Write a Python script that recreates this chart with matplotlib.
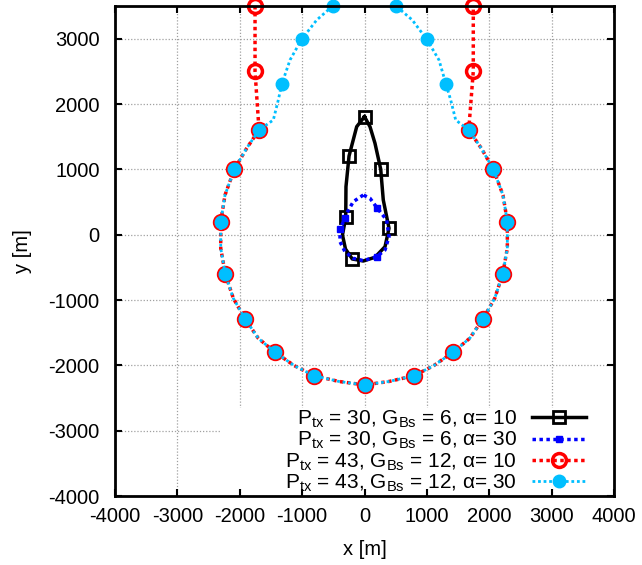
import numpy as np
import matplotlib
matplotlib.use("Agg")
import matplotlib.pyplot as plt
from matplotlib.patches import Rectangle

plt.rcParams.update({
    "font.family": ["Liberation Sans", "DejaVu Sans"],
    "mathtext.fontset": "custom",
    "mathtext.rm": "Liberation Sans",
    "mathtext.it": "Liberation Sans:italic",
    "mathtext.bf": "Liberation Sans:bold",
    "axes.unicode_minus": False,
})

# ── Data (metres) ─────────────────────────────────────────────────────────────
# P_tx = 30, G_Bs = 6, alpha = 10 (closed teardrop)
BLACK_X = [0, -125, -248, -297, -301, -353, -305, -196, -19, 168, 329, 393, 301, 260, 168, 88, 0]
BLACK_Y = [1806, 1653, 1204, 734, 266, -5, -219, -372, -403, -346, -184, 98, 531, 1001, 1399, 1653, 1806]
BLACK_MARKS = [0, 2, 4, 7, 11, 13]

# P_tx = 30, G_Bs = 6, alpha = 30 (closed loop)
BLUE_X = [-19, -180, -286, -313, -393, -393, -313, -180, -19, 196, 329, 393, 355, 206, 88, -19]
BLUE_Y = [607, 505, 327, 251, 87, -107, -260, -362, -398, -337, -234, -31, 225, 404, 557, 607]
BLUE_MARKS = [3, 4, 9, 13]

# shared lower arc of the two P_tx = 43 curves (left top -> bottom -> right top)
ARC_X = [-1691, -1889, -2087, -2236, -2305, -2305, -2232, -2103, -1911, -1703,
         -1440, -1125, -810, -409, 0, 393, 794, 1109, 1424, 1687,
         1896, 2088, 2216, 2290, 2290, 2220, 2066, 1873, 1671]
ARC_Y = [1602, 1322, 1001, 607, 199, -208, -602, -974, -1295, -1586,
         -1796, -2005, -2159, -2247, -2300, -2247, -2159, -2005, -1796, -1586,
         -1295, -974, -602, -208, 199, 607, 1001, 1322, 1602]
ARC_MARKS = list(range(0, 29, 2))

# P_tx = 43, G_Bs = 12, alpha = 10: vertical arms above the arc
RED_LEFT_X = [-1755, -1755]
RED_LEFT_Y = [3500, 2500]
RED_RIGHT_X = [1744, 1744]
RED_RIGHT_Y = [2500, 3500]

# P_tx = 43, G_Bs = 12, alpha = 30: dome above the arc
CYAN_LEFT_X = [-510, -766, -1007, -1194, -1327, -1382, -1462]
CYAN_LEFT_Y = [3500, 3286, 2991, 2674, 2302, 2061, 1755]
CYAN_LEFT_MARKS = [0, 2, 4]
CYAN_RIGHT_X = [1462, 1382, 1307, 1194, 997, 766, 505]
CYAN_RIGHT_Y = [1755, 2061, 2302, 2674, 2991, 3286, 3500]
CYAN_RIGHT_MARKS = [2, 4, 6]

LABELS = [
    r"P$_{\mathrm{tx}}$ = 30, G$_{\mathrm{Bs}}$ = 6, α= 10",
    r"P$_{\mathrm{tx}}$ = 30, G$_{\mathrm{Bs}}$ = 6, α= 30",
    r"P$_{\mathrm{tx}}$ = 43, G$_{\mathrm{Bs}}$ = 12, α= 10",
    r"P$_{\mathrm{tx}}$ = 43, G$_{\mathrm{Bs}}$ = 12, α= 30",
]
TICKS_X = np.arange(-4000, 4001, 1000)
TICKS_Y = np.arange(-4000, 3001, 1000)


def join(parts):
    """Concatenate pieces of a curve and shift their marker indices."""
    xs, ys, marks = [], [], []
    for px, py, pm in parts:
        off = len(xs)
        marks += [off + m for m in pm]
        xs += list(px)
        ys += list(py)
    return np.array(xs), np.array(ys), marks


red_x, red_y, red_marks = join([
    (RED_LEFT_X, RED_LEFT_Y, [0, 1]),
    (ARC_X, ARC_Y, ARC_MARKS),
    (RED_RIGHT_X, RED_RIGHT_Y, [0, 1]),
])
cyan_x, cyan_y, cyan_marks = join([
    (CYAN_LEFT_X, CYAN_LEFT_Y, CYAN_LEFT_MARKS),
    (ARC_X, ARC_Y, ARC_MARKS),
    (CYAN_RIGHT_X, CYAN_RIGHT_Y, CYAN_RIGHT_MARKS),
])

# ── Figure ────────────────────────────────────────────────────────────────────
W, H = 642, 565
fig = plt.figure(figsize=(W / 100, H / 100), dpi=100)
ax = fig.add_axes([115 / W, 1 - 496 / H, 499 / W, 490 / H])

dots = (0, (1, 1))
l1, = ax.plot(BLACK_X, BLACK_Y, color="black", lw=2.5, marker="s", ms=8,
              mfc="none", mec="black", mew=2, markevery=BLACK_MARKS)
l2, = ax.plot(BLUE_X, BLUE_Y, color="#0000ff", lw=2.5, ls=dots, marker="s", ms=5,
              mfc="#0000ff", mec="#0000ff", markevery=BLUE_MARKS)
l3, = ax.plot(red_x, red_y, color="#ff0000", lw=2.5, ls=dots, marker="o", ms=10,
              mfc="none", mec="#ff0000", mew=2.5, markevery=red_marks)
l4, = ax.plot(cyan_x, cyan_y, color="#00bfff", lw=2.0, ls=dots, marker="o", ms=9,
              mfc="#00bfff", mec="#00bfff", markevery=cyan_marks)
for ln in (l1, l2, l3, l4):
    ln.set_clip_on(False)

ax.set_xlim(-4000, 4000)
ax.set_ylim(-4000, 3500)
ax.set_xticks(TICKS_X)
ax.set_yticks(TICKS_Y)
ax.set_axisbelow(True)
ax.grid(True, color="#a0a0a0", ls=(0, (1, 1.5)), lw=0.9)
ax.tick_params(direction="in", length=5, width=1.5, top=True, right=True,
               labelsize=14.5)
ax.tick_params(axis="x", pad=8)
ax.tick_params(axis="y", pad=11)
for sp in ax.spines.values():
    sp.set_linewidth(2)

# white key box hides the grid behind the legend
ax.add_patch(Rectangle((0.2104, 0.014), 0.79, 0.166, transform=ax.transAxes,
                       facecolor="white", edgecolor="none", zorder=1))

ax.legend([l1, l2, l3, l4], LABELS, loc="lower right", bbox_to_anchor=(0.948, 0.0),
          frameon=False, markerfirst=False, fontsize=15, handlelength=2.6,
          handletextpad=0.7, labelspacing=0.0, borderpad=0.1, borderaxespad=0)

ax.set_xlabel("x [m]", fontsize=14.5, labelpad=10)
ax.set_ylabel("y [m]", fontsize=14.5, labelpad=12)

fig.savefig("out.png", dpi=100)
